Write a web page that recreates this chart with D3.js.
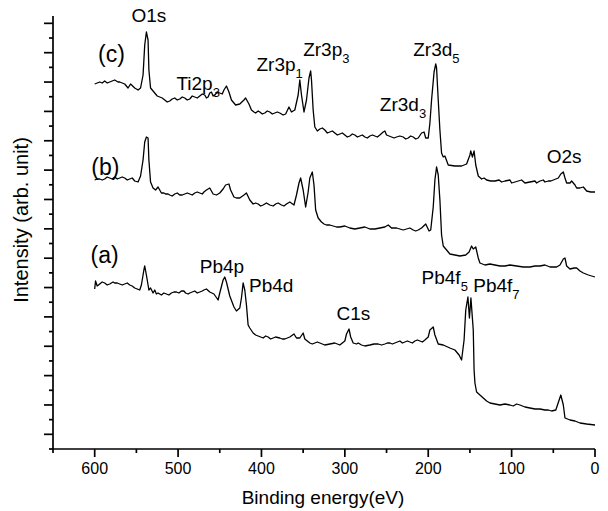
<!DOCTYPE html>
<html>
<head>
<meta charset="utf-8">
<script src="https://cdnjs.cloudflare.com/ajax/libs/d3/7.8.5/d3.min.js"></script>
<style>
    body { margin: 0; background: #fff; }
    svg text { font-family: "Liberation Sans", Arial, sans-serif; fill: #000; }
    .spectrum { fill: none; stroke: #000; stroke-width: 1.3px; stroke-linejoin: round; }
    .axisline, .tick { stroke: #000; stroke-width: 1.7px; }
</style>
</head>
<body>
<div id="xps"></div>
<script>
// binding energy (eV) ticks
var xTicks = [600, 500, 400, 300, 200, 100, 0];
var xMinorTicks = [650, 550, 450, 350, 250, 150, 50];

// spectra: [binding energy, intensity (arb. unit)]
var spectrumC = [
    [600,365],[597,366],[594,367],[591,366],[588,368],[585,366],[582,367],[579,368],[576,369],[572,367],
    [570,367],[567,366],[564,365],[560,361],[557,365],[552,361],[548,359],[545,361],[542,374],[540,404],
    [538,417],[536,409],[535,379],[533,361],[530,358],[528,356],[525,353],[522,352],[519,351],[516,349],
    [513,347],[510,348],[507,350],[504,351],[501,349],[498,350],[495,352],[492,351],[489,349],[486,350],
    [483,353],[480,352],[477,351],[474,353],[471,355],[468,354],[466,351],[464,352],[462,356],[460,357],
    [458,353],[456,354],[453,357],[450,356],[447,355],[445,359],[442,363],[439,357],[436,349],[431,344],
    [426,345],[421,349],[419,351],[415,345],[412,339],[409,337],[407,336],[404,338],[402,337],[399,335],
    [396,336],[393,338],[390,337],[387,335],[384,336],[381,337],[378,336],[374,334],[371,335],[367,342],
    [364,337],[360,339],[356,354],[354,369],[352,354],[349,337],[346,349],[343,371],[341,378],[340,369],
    [338,339],[336,322],[333,318],[330,320],[327,321],[324,319],[321,316],[318,317],[315,318],[312,316],
    [309,314],[306,315],[303,316],[300,314],[297,312],[294,313],[291,315],[288,314],[285,312],[282,313],
    [279,314],[276,312],[273,311],[270,313],[267,314],[264,313],[261,312],[258,314],[254,317],[252,318],
    [250,314],[247,313],[244,312],[241,311],[238,312],[234,313],[230,312],[227,310],[224,311],[221,313],
    [218,312],[215,310],[212,311],[208,316],[205,317],[203,311],[200,311],[198,326],[196,349],[193,377],
    [191,385],[190,381],[188,349],[186,319],[184,296],[182,292],[180,293],[176,284],[168,283],[160,283],
    [154,285],[150,294],[149,298],[147,292],[145,298],[143,284],[140,273],[136,270],[133,271],[130,269],
    [125,268],[120,268],[115,269],[112,267],[108,268],[102,269],[100,266],[96,267],[92,268],[88,269],
    [84,266],[78,267],[72,268],[70,266],[66,268],[62,269],[60,267],[56,268],[53,268],[50,269],
    [47,270],[44,271],[41,275],[38,277],[36,271],[34,266],[30,266],[28,268],[24,264],[22,261],
    [18,261],[14,262],[10,258],[5,257],[0,257]
];
var spectrumB = [
    [600,269],[597,270],[594,270],[591,269],[588,270],[585,272],[582,271],[579,270],[576,272],[573,270],
    [570,271],[567,272],[564,271],[561,269],[558,270],[555,271],[552,268],[548,267],[545,273],[542,289],
    [540,307],[538,312],[536,311],[535,289],[533,267],[530,261],[527,259],[524,262],[522,259],[520,256],
    [517,256],[515,255],[512,255],[510,254],[507,253],[504,255],[501,256],[498,254],[495,254],[492,255],
    [489,256],[486,255],[483,254],[480,256],[477,257],[474,256],[471,255],[469,257],[466,259],[462,261],
    [458,255],[454,254],[450,256],[446,260],[443,264],[439,265],[437,259],[433,252],[430,251],[426,251],
    [421,254],[418,256],[414,249],[410,245],[407,246],[404,245],[401,243],[398,244],[394,246],[390,244],
    [386,243],[383,245],[380,246],[376,244],[373,243],[370,245],[366,247],[361,244],[358,254],[355,266],
    [353,271],[350,259],[347,242],[344,257],[342,271],[339,277],[337,264],[335,239],[332,231],[328,227],
    [325,225],[322,224],[318,224],[314,223],[310,222],[306,222],[300,223],[294,221],[288,220],[282,221],
    [276,222],[270,220],[264,220],[258,221],[252,222],[248,224],[244,221],[238,221],[234,220],[230,219],
    [226,220],[222,221],[218,219],[215,218],[212,219],[208,221],[203,225],[199,218],[197,219],[194,242],
    [192,269],[190,282],[188,274],[186,249],[184,214],[182,203],[179,200],[174,195],[168,194],[162,193],
    [155,194],[151,197],[148,203],[146,200],[143,202],[140,191],[138,186],[132,184],[126,185],[120,184],
    [114,183],[108,183],[102,184],[94,183],[86,182],[78,182],[72,183],[66,183],[60,184],[54,182],
    [46,182],[42,184],[38,190],[36,191],[34,183],[30,180],[25,181],[22,181],[18,178],[14,176],
    [8,174],[0,172]
];
var spectrumA = [
    [600,160],[599,168],[597,163],[594,165],[591,167],[588,166],[585,164],[582,165],[578,167],[576,166],
    [573,166],[570,165],[567,164],[564,165],[561,166],[558,164],[555,163],[552,161],[546,159],[544,164],
    [541,179],[540,183],[538,174],[535,159],[533,161],[530,156],[528,159],[526,155],[524,156],[520,154],
    [517,156],[514,155],[511,154],[508,156],[505,157],[502,157],[499,156],[496,158],[493,158],[491,156],
    [488,155],[486,156],[483,157],[480,158],[477,156],[474,157],[471,158],[469,159],[466,160],[462,157],
    [457,155],[452,149],[450,156],[446,169],[444,172],[442,167],[438,153],[433,142],[430,138],[426,141],
    [424,151],[422,166],[420,159],[418,144],[416,124],[414,121],[410,116],[407,114],[404,113],[401,112],
    [398,111],[395,113],[392,112],[389,110],[386,111],[383,112],[378,111],[375,110],[372,110],[369,111],
    [366,112],[361,115],[358,111],[354,111],[350,116],[348,110],[342,106],[339,105],[336,106],[333,107],
    [330,106],[324,104],[318,105],[312,106],[306,104],[300,108],[298,115],[295,120],[293,112],[290,106],
    [286,105],[284,106],[280,104],[276,103],[270,104],[265,105],[260,105],[256,104],[252,105],[249,106],
    [246,106],[243,105],[240,106],[237,107],[234,108],[231,106],[228,107],[225,108],[222,107],[219,106],
    [216,108],[213,109],[210,108],[207,107],[204,109],[200,112],[198,119],[194,122],[192,114],[188,105],
    [182,104],[174,101],[168,99],[163,94],[160,89],[157,109],[155,139],[152.4,152],[150.6,131],[148.8,151],
    [146,119],[145,79],[144,66],[142,57],[138,54],[134,51],[130,48],[126,46],[120,45],[114,44],
    [108,45],[102,44],[98,43],[94,45],[90,44],[84,42],[78,41],[72,40],[66,40],[60,39],
    [56,39],[52,38],[47,39],[43,49],[41,54],[38,44],[36,31],[30,29],[24,28],[18,26],
    [10,25],[0,24]
];

// curve tags and peak assignments, anchored at [binding energy, intensity]
var curveTags = [
    {text: "(c)", be: 596, level: 387},
    {text: "(b)", be: 604, level: 274},
    {text: "(a)", be: 605, level: 186}
];
var peakLabels = [
    {text: "O1s",  sub: "",  be: 556, level: 427},
    {text: "Ti2p", sub: "3", be: 502, level: 359},
    {text: "Zr3p", sub: "1", be: 406, level: 378},
    {text: "Zr3p", sub: "3", be: 350, level: 393},
    {text: "Zr3d", sub: "5", be: 218, level: 393},
    {text: "Zr3d", sub: "3", be: 258, level: 338},
    {text: "O2s",  sub: "",  be: 58,  level: 286},
    {text: "Pb4p", sub: "",  be: 474, level: 176},
    {text: "Pb4d", sub: "",  be: 415, level: 157},
    {text: "C1s",  sub: "",  be: 310, level: 129},
    {text: "Pb4f", sub: "5", be: 208, level: 165},
    {text: "Pb4f", sub: "7", be: 146, level: 157}
];

var width = 608,
    height = 511;

var svg = d3.select("#xps").append("svg")
    .attr("width", width)
    .attr("height", height);

var x = d3.scaleLinear()
    .domain([650, 0])
    .range([53, 595]);
var y = d3.scaleLinear()
    .domain([0, 433])
    .range([449, 16]);

// y axis has no labels: a minor tick every step, long tick every other one
var yTickStep = 433 / 29.5;
var yTicks = d3.range(0, 30).map(function(i) { return {v: i * yTickStep, major: i % 2 == 1}; });

var line = d3.line()
    .x(function(d) { return x(d[0]); })
    .y(function(d) { return y(d[1]); });

[spectrumA, spectrumB, spectrumC].forEach(function(s) {
    svg.append("path").attr("class", "spectrum")
        .attr("d", line(s));
});

// axes
svg.append("line").attr("class", "axisline")
    .attr("x1", x(650)).attr("x2", x(0))
    .attr("y1", y(0)).attr("y2", y(0));
svg.append("line").attr("class", "axisline")
    .attr("x1", x(650)).attr("x2", x(650))
    .attr("y1", y(0)).attr("y2", y(433));

svg.selectAll(".xtick")
    .data(xTicks.map(function(v) { return {v: v, len: 8}; })
        .concat(xMinorTicks.map(function(v) { return {v: v, len: 4}; })))
    .enter()
        .append("line").attr("class", "tick xtick")
        .attr("x1", function(d) { return x(d.v); })
        .attr("x2", function(d) { return x(d.v); })
        .attr("y1", y(0))
        .attr("y2", function(d) { return y(0) + d.len; });

svg.selectAll(".ytick")
    .data(yTicks)
    .enter()
        .append("line").attr("class", "tick ytick")
        .attr("x1", x(650))
        .attr("x2", function(d) { return x(650) - (d.major ? 9 : 4); })
        .attr("y1", function(d) { return y(d.v); })
        .attr("y2", function(d) { return y(d.v); });

svg.selectAll(".xlabel")
    .data(xTicks)
    .enter()
        .append("text").attr("class", "xlabel")
        .attr("x", function(d) { return x(d); })
        .attr("y", 474)
        .attr("font-size", "16px")
        .attr("text-anchor", "middle")
        .text(function(d) { return d; });

svg.append("text")
    .attr("x", 323)
    .attr("y", 504)
    .attr("font-size", "19px")
    .attr("text-anchor", "middle")
    .text("Binding energy(eV)");

svg.append("text")
    .attr("transform", "translate(28,220) rotate(-90)")
    .attr("font-size", "20px")
    .attr("text-anchor", "middle")
    .text("Intensity (arb. unit)");

// annotations
svg.selectAll(".tag")
    .data(curveTags)
    .enter()
        .append("text").attr("class", "tag")
        .attr("x", function(d) { return x(d.be); })
        .attr("y", function(d) { return y(d.level); })
        .attr("font-size", "23px")
        .text(function(d) { return d.text; });

var peaks = svg.selectAll(".peak")
    .data(peakLabels)
    .enter()
        .append("text").attr("class", "peak")
        .attr("x", function(d) { return x(d.be); })
        .attr("y", function(d) { return y(d.level); })
        .attr("font-size", "19px");
peaks.append("tspan")
    .text(function(d) { return d.text; });
peaks.append("tspan")
    .attr("dy", 7)
    .attr("font-size", "13px")
    .text(function(d) { return d.sub; });
</script>
</body>
</html>
